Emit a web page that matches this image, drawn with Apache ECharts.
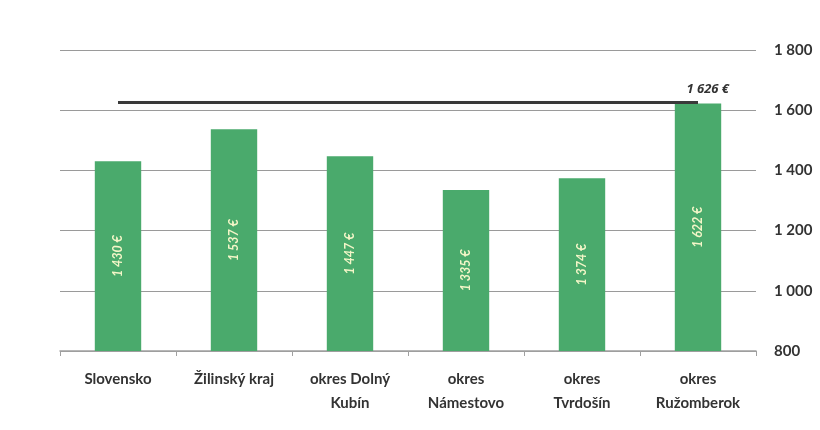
<!DOCTYPE html>
<html>
<head>
<meta charset="utf-8">
<script src="https://cdn.jsdelivr.net/npm/echarts@6/dist/echarts.min.js"></script>
<style>
  html, body { margin: 0; padding: 0; background: #fff; }
  #chart { width: 820px; height: 430px; }
</style>
</head>
<body>
<div id="chart"></div>
<script>
// Average monthly wage by region
const categories = ['Slovensko', 'Žilinský kraj', 'okres Dolný\nKubín', 'okres\nNámestovo', 'okres\nTvrdošín', 'okres\nRužomberok'];
const wages = [1430, 1537, 1447, 1335, 1374, 1622];
const maxWage = 1626;
const yTicks = [800, 1000, 1200, 1400, 1600, 1800];

function fmt(v) {
  return String(v).replace(/\B(?=(\d{3})+(?!\d))/g, ' ');
}

const chart = echarts.init(document.getElementById('chart'));
chart.setOption({
  animation: false,
  textStyle: { fontFamily: 'Lato, "Open Sans", sans-serif' },
  grid: { left: 60, right: 64, top: 50, bottom: 79 },
  xAxis: {
    type: 'category',
    data: categories,
    axisLine: { lineStyle: { color: '#a0a0a0', width: 1.5 } },
    axisTick: { show: true, length: 5, lineStyle: { color: '#a0a0a0' } },
    axisLabel: { color: '#333', fontSize: 15, fontWeight: 'bold', margin: 16, lineHeight: 24, interval: 0 }
  },
  yAxis: {
    type: 'value',
    position: 'right',
    min: yTicks[0],
    max: yTicks[yTicks.length - 1],
    interval: 200,
    axisLine: { show: false },
    axisTick: { show: false },
    splitLine: { lineStyle: { color: '#9a9a9a', width: 1.2 } },
    axisLabel: { color: '#333', fontSize: 15, fontWeight: 'bold', margin: 18, formatter: v => fmt(v) }
  },
  series: [{
    // reference line for the highest district wage, drawn beneath the bars
    type: 'line',
    data: [],
    z: 1,
    markLine: {
      silent: true,
      symbol: ['none', 'none'],
      lineStyle: { color: '#3a3a3a', width: 3, type: 'solid' },
      label: {
        show: true,
        position: 'insideEndTop',
        offset: [36, -2],
        color: '#333',
        fontSize: 13,
        fontWeight: 'bold',
        fontStyle: 'italic',
        fontFamily: '"Open Sans", "DejaVu Sans", sans-serif',
        formatter: () => fmt(maxWage) + ' €'
      },
      data: [[{ xAxis: 0, yAxis: maxWage }, { xAxis: 5, yAxis: maxWage }]]
    }
  }, {
    type: 'bar',
    data: wages,
    z: 3,
    barWidth: '40%',
    itemStyle: { color: '#4aaa6c' },
    label: {
      show: true,
      position: 'inside',
      rotate: 90,
      color: '#f4f6c8',
      fontSize: 12.5,
      fontWeight: 'bold',
      fontStyle: 'italic',
      formatter: p => fmt(p.value) + ' €'
    }
  }]
});
</script>
</body>
</html>
